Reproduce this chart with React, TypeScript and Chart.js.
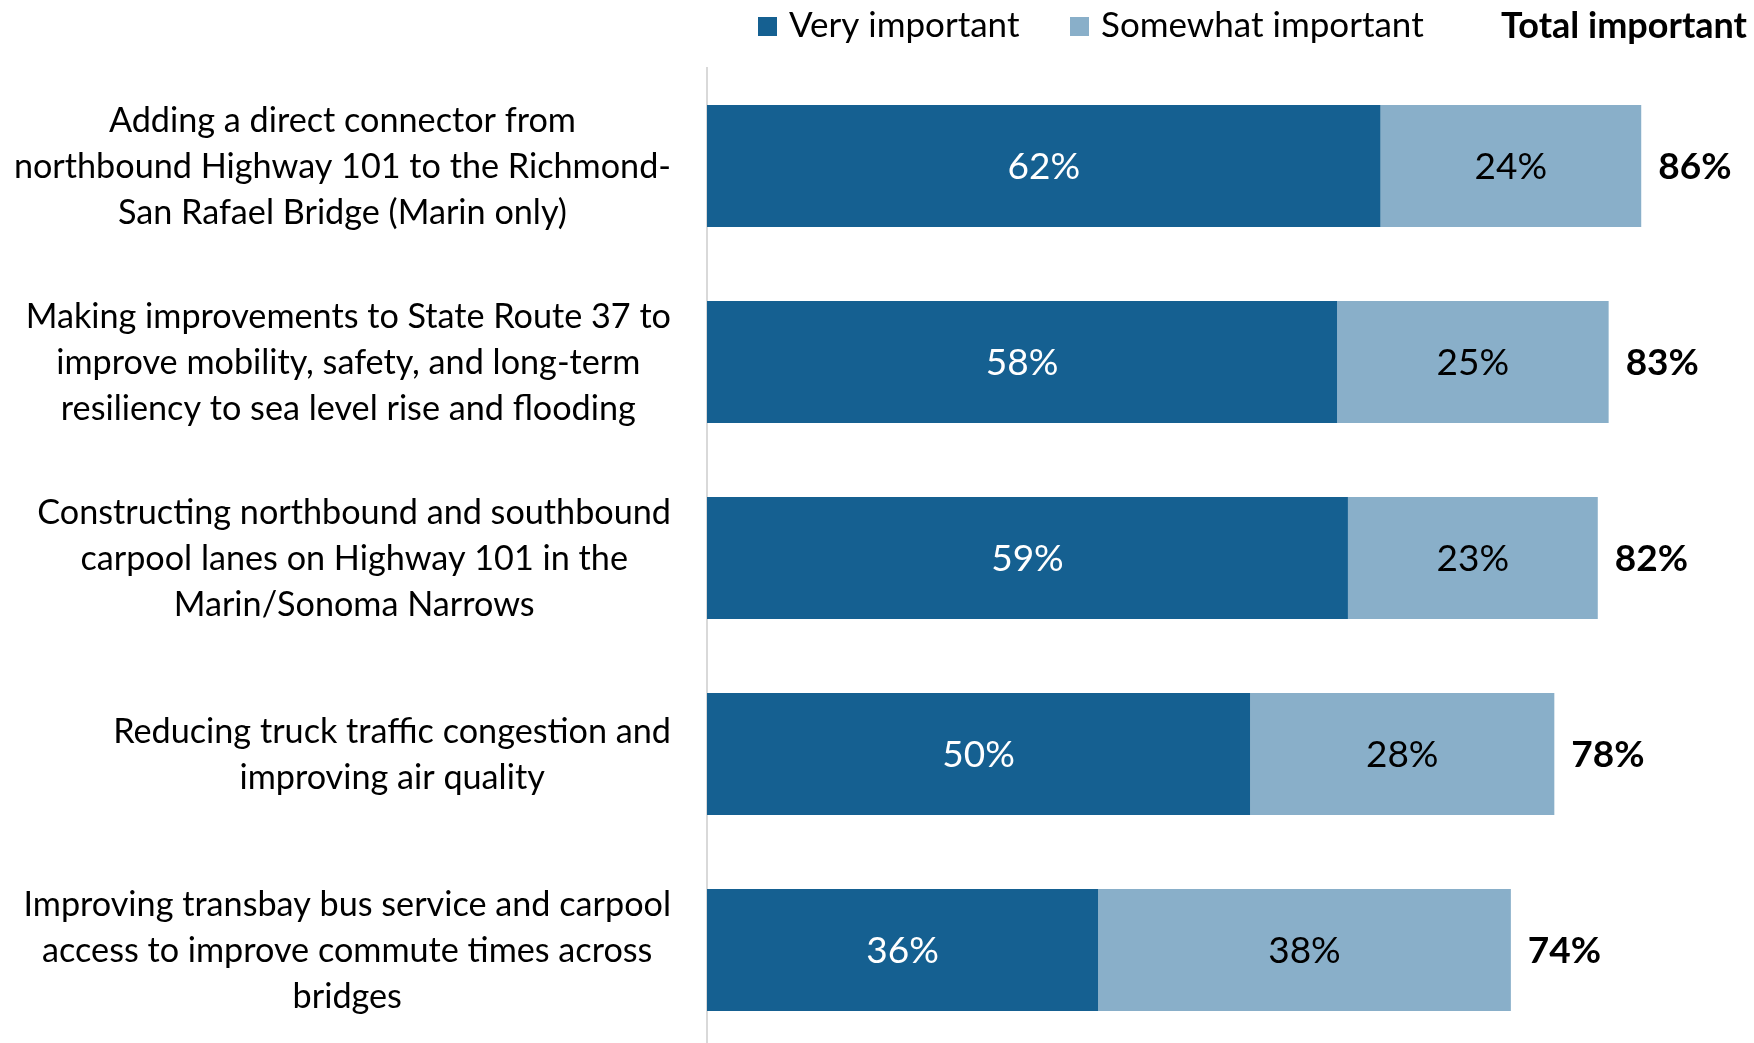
import React, { useEffect, useRef } from "react";
import { Chart, registerables } from "chart.js";

Chart.register(...registerables);

const categories: string[][] = [
  ["Adding a direct connector from", "northbound Highway 101 to the Richmond-", "San Rafael Bridge (Marin only)"],
  ["Making improvements to State Route 37 to", "improve mobility, safety, and long-term", "resiliency to sea level rise and flooding"],
  ["Constructing northbound and southbound", "carpool lanes on Highway 101 in the", "Marin/Sonoma Narrows"],
  ["Reducing truck traffic congestion and", "improving air quality"],
  ["Improving transbay bus service and carpool", "access to improve commute times across", "bridges"],
];
const veryImportant = [62, 58, 59, 50, 36];
const somewhatImportant = [24, 25, 23, 28, 38];
const totalImportant = [86, 83, 82, 78, 74];
const seriesNames = ["Very important", "Somewhat important"];
const totalHeader = "Total important";

const DARK = "#156091";
const LIGHT = "#89AFC9";
const FONT = "Lato, 'Open Sans', sans-serif";

const overlayPlugin = {
  id: "overlay",
  afterDatasetsDraw(chart: any) {
    const ctx: CanvasRenderingContext2D = chart.ctx;
    ctx.save();
    ctx.textBaseline = "middle";

    // segment labels
    chart.data.datasets.forEach((ds: any, di: number) => {
      const meta = chart.getDatasetMeta(di);
      meta.data.forEach((bar: any, i: number) => {
        const { x, base, y } = bar.getProps(["x", "base", "y"], true);
        ctx.font = `37px ${FONT}`;
        ctx.fillStyle = di === 0 ? "#ffffff" : "#000000";
        ctx.textAlign = "center";
        ctx.fillText(`${ds.data[i]}%`, (x + base) / 2, y + 1);
      });
    });

    // totals
    const lastMeta = chart.getDatasetMeta(chart.data.datasets.length - 1);
    lastMeta.data.forEach((bar: any, i: number) => {
      ctx.font = `bold 37px ${FONT}`;
      ctx.textAlign = "left";
      ctx.fillStyle = "#000000";
      ctx.fillText(`${totalImportant[i]}%`, bar.x + 17, bar.y + 1);
    });

    // category labels
    const yScale = chart.scales.y;
    const right = chart.chartArea.left - 36;
    ctx.font = `34.2px ${FONT}`;
    ctx.fillStyle = "#000000";
    ctx.textAlign = "center";
    categories.forEach((lines, i) => {
      const cy = yScale.getPixelForValue(i);
      const widths = lines.map((l) => ctx.measureText(l).width);
      const block = Math.max(...widths);
      const cx = right - block / 2;
      const lh = 45.8;
      lines.forEach((l, k) => {
        ctx.fillText(l, cx, cy + 1 + (k - (lines.length - 1) / 2) * lh);
      });
    });

    // legend
    const legendY = 26;
    const items = [
      { x: 758, color: DARK, text: seriesNames[0] },
      { x: 1070, color: LIGHT, text: seriesNames[1] },
    ];
    ctx.font = `35px ${FONT}`;
    ctx.textAlign = "left";
    items.forEach((it) => {
      ctx.fillStyle = it.color;
      ctx.fillRect(it.x, legendY - 9, 19, 19);
      ctx.fillStyle = "#000000";
      ctx.fillText(it.text, it.x + 31, legendY);
    });
    ctx.font = `bold 36px ${FONT}`;
    ctx.textAlign = "right";
    ctx.fillText(totalHeader, 1747, legendY);

    ctx.restore();
  },
};

export default function App() {
  const ref = useRef<HTMLCanvasElement | null>(null);
  useEffect(() => {
    if (!ref.current) return;
    const chart = new Chart(ref.current, {
      type: "bar",
      data: {
        labels: categories,
        datasets: [
          { label: seriesNames[0], data: veryImportant, backgroundColor: DARK, barPercentage: 0.622, categoryPercentage: 1 },
          { label: seriesNames[1], data: somewhatImportant, backgroundColor: LIGHT, barPercentage: 0.622, categoryPercentage: 1 },
        ],
      },
      options: {
        indexAxis: "y",
        responsive: false,
        animation: false,
        devicePixelRatio: 1,
        layout: { padding: { top: 68, right: 15, bottom: 0, left: 0 } },
        plugins: { legend: { display: false }, tooltip: { enabled: false } },
        scales: {
          x: { stacked: true, min: 0, max: 95, display: false },
          y: {
            stacked: true,
            grid: { display: false },
            ticks: { display: false },
            border: { display: true, color: "#d9d9d9", width: 2 },
            afterFit: (s: any) => {
              s.width = 707;
            },
          },
        },
      },
      plugins: [overlayPlugin],
    } as any);
    return () => chart.destroy();
  }, []);
  return (
    <div style={{ position: "absolute", left: 0, top: 0, width: 1754, height: 1043, overflow: "hidden", background: "#fff" }}>
      <canvas ref={ref} width={1754} height={1048} style={{ width: 1754, height: 1048, display: "block" }} />
    </div>
  );
}
